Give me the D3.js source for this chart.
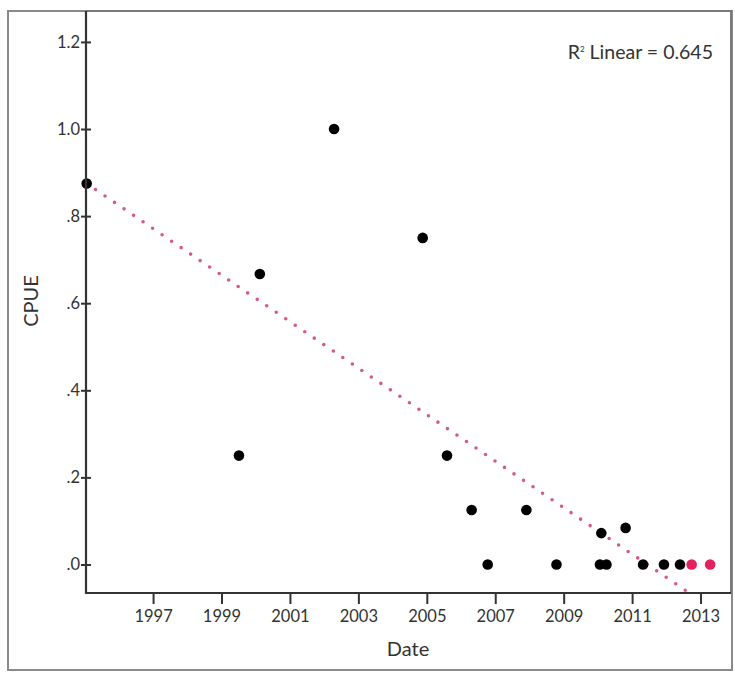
<!DOCTYPE html>
<html>
<head>
<meta charset="utf-8">
<script src="https://cdn.jsdelivr.net/npm/d3@7"></script>
<style>
  html, body { margin: 0; padding: 0; background: #fff; }
  svg { display: block; }
  text { font-family: "Lato", "Open Sans", "DejaVu Sans", sans-serif; fill: #333; }
</style>
</head>
<body>
<svg id="chart" width="735" height="673"></svg>
<script>
// ---- data ----
const dates = [1995.06, 1999.51, 2000.12, 2002.29, 2004.88, 2005.59, 2006.31, 2006.78,
               2007.91, 2008.79, 2010.10, 2010.06, 2010.25, 2010.81, 2011.32, 2011.93,
               2012.40, 2012.74, 2013.28];
const cpue  = [0.875, 0.25, 0.667, 1.0, 0.75, 0.25, 0.125, 0.0,
               0.125, 0.0, 0.072, 0.0, 0.0, 0.084, 0.0, 0.0,
               0.0, 0.0, 0.0];
const groups = ["a","a","a","a","a","a","a","a","a","a","a","a","a","a","a","a","a","b","b"];
const xTicks = [1997, 1999, 2001, 2003, 2005, 2007, 2009, 2011, 2013];
const yTicks = [0, 0.2, 0.4, 0.6, 0.8, 1.0, 1.2];
const yTickLabels = [".0", ".2", ".4", ".6", ".8", "1.0", "1.2"];
const xDomain = [1995.04, 2013.89];
const yDomain = [-0.0655, 1.271];
// fitted linear line: value at start of domain and slope per year
const fitIntercept = 0.876;   // at xDomain[0]
const fitSlope = -0.0534;     // per year
const r2Label = "0.645";

// ---- layout ----
const svg = d3.select("#chart");
const L = 86, T = 11, R = 731, B = 593;

const x = d3.scaleLinear().domain(xDomain).range([L, R]);
const y = d3.scaleLinear().domain(yDomain).range([B, T]);

// outer frame
svg.append("rect")
  .attr("x", 8).attr("y", 11).attr("width", 724).attr("height", 659)
  .attr("fill", "none").attr("stroke", "#8a8a8a").attr("stroke-width", 2);

// plot border (top/right lighter)
svg.append("path")
  .attr("d", `M${L},${T}H${R}V${B}`)
  .attr("fill", "none").attr("stroke", "#7a7a7a").attr("stroke-width", 2);

svg.append("defs").append("clipPath").attr("id", "clip")
  .append("rect").attr("x", L).attr("y", T).attr("width", R - L).attr("height", B - T);

// regression line (dotted)
const xEnd = xDomain[0] + (yDomain[0] - fitIntercept) / fitSlope;
const fitPts = [[xDomain[0], fitIntercept], [xEnd, yDomain[0]]];
svg.append("path")
  .attr("clip-path", "url(#clip)")
  .attr("d", d3.line().x(d => x(d[0])).y(d => y(d[1]))(fitPts))
  .attr("fill", "none")
  .attr("stroke", "#d0487a")
  .attr("stroke-width", 3.6)
  .attr("stroke-linecap", "round")
  .attr("stroke-dasharray", "0,11.5")
  .attr("opacity", 0.9);

// points
const pts = dates.map((d, i) => ({ d, v: cpue[i], g: groups[i] }));
svg.append("g").selectAll("circle").data(pts).join("circle")
  .attr("cx", p => x(p.d))
  .attr("cy", p => y(p.v))
  .attr("r", 5.3)
  .attr("fill", p => p.g === "b" ? "#e3225f" : "#000");

// y axis
const yAxis = d3.axisLeft(y).tickValues(yTicks).tickSize(0)
  .tickFormat((d, i) => yTickLabels[i]).tickPadding(6);
const gy = svg.append("g").attr("transform", `translate(${L},0)`).call(yAxis);
gy.select(".domain").remove();
gy.selectAll("text").style("font-size", "16.5px").attr("fill", "#333")
  .style("font-family", "Lato, 'Open Sans', sans-serif");
gy.selectAll(".tick").append("line")
  .attr("x1", -5).attr("x2", 5).attr("stroke", "#333").attr("stroke-width", 2);

// x axis
const xAxis = d3.axisBottom(x).tickValues(xTicks).tickSize(11)
  .tickFormat(d3.format("d")).tickPadding(6);
const gx = svg.append("g").attr("transform", `translate(0,${B})`).call(xAxis);
gx.select(".domain").remove();
gx.selectAll(".tick line").attr("stroke", "#333").attr("stroke-width", 2);
gx.selectAll("text").style("font-size", "16.5px").attr("fill", "#333")
  .style("font-family", "Lato, 'Open Sans', sans-serif");

// axis lines
svg.append("path")
  .attr("d", `M${L},${T}V${B}H${R}`)
  .attr("fill", "none").attr("stroke", "#333").attr("stroke-width", 2.2);

// titles
svg.append("text").attr("x", 408).attr("y", 656).attr("text-anchor", "middle")
  .style("font-size", "20px").text("Date");
svg.append("text").attr("transform", "translate(38,301) rotate(-90)")
  .attr("text-anchor", "middle").style("font-size", "20px").text("CPUE");

// R² label
const rt = svg.append("text").attr("x", 713).attr("y", 59).attr("text-anchor", "end")
  .style("font-size", "19.5px");
rt.append("tspan").text("R");
rt.append("tspan").attr("dy", -7).style("font-size", "8px").text("2");
rt.append("tspan").attr("dy", 7).text(" Linear = " + r2Label);
</script>
</body>
</html>
